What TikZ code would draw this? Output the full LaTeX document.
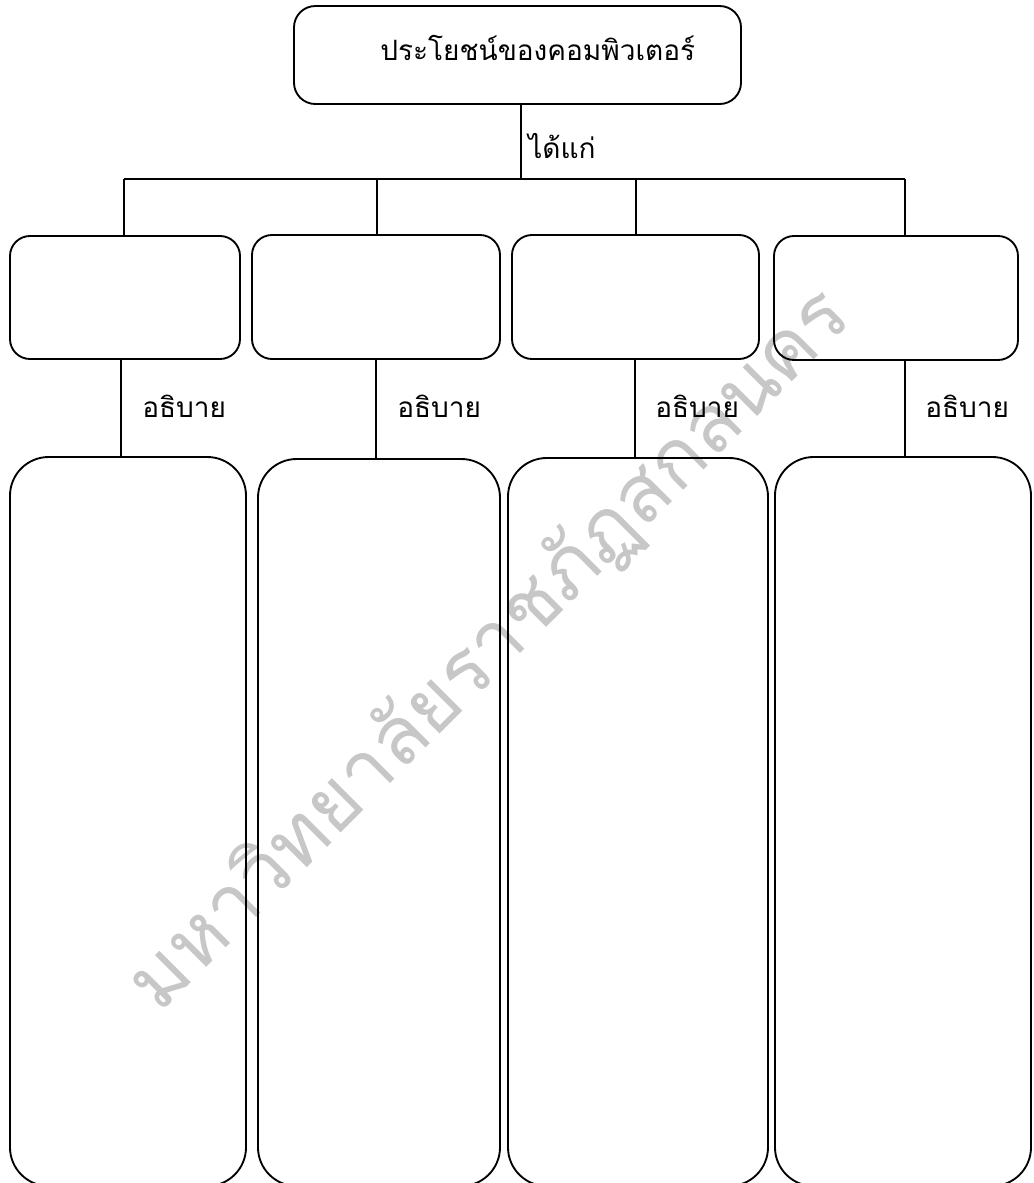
\documentclass[tikz,border=0pt]{standalone}
\usepackage{fontspec}
\newfontfamily\thaifont[Script=Thai]{Loma}
\begin{document}
\begin{tikzpicture}[x=0.75pt,y=-0.75pt,
  frame/.style={draw=black, line width=1.4pt, inner sep=0pt, outer sep=0pt},
  size/.style 2 args={minimum width=#1*0.75pt, minimum height=#2*0.75pt},
  headbox/.style={frame, rounded corners=16pt},
  itembox/.style={frame, rounded corners=15pt},
  notebox/.style={frame, rounded corners=29pt},
  link/.style={draw=black, line width=1.2pt},
  lbl/.style={font=\thaifont\fontsize{21}{25}\selectfont, inner sep=0pt, anchor=base west},
  wmtext/.style={font=\thaifont\fontsize{60}{70}\selectfont, text=black!22, inner sep=0pt, rotate=45}]
\useasboundingbox (0,0) rectangle (1033,1183);
\clip (0,0) rectangle (1033,1183);
\fill[white] (0,0) rectangle (1033,1183);

% watermark behind the chart
\node[wmtext] (wm) at (490,650) {มหาวิทยาลัยราชภัฏสกลนคร};

% heading
\node[headbox, size={447}{98}] (T) at (517.5,55) {};
\node[lbl] (Ttext) at (380,60) {ประโยชน์ของคอมพิวเตอร์};

% first row of items
\node[itembox, size={230}{123}] (b1) at (125,297.5) {};
\node[itembox, size={248}{124}] (b2) at (376,297) {};
\node[itembox, size={247}{124}] (b3) at (635.5,297) {};
\node[itembox, size={244}{124}] (b4) at (896,298) {};

% tall explanation boxes
\node[notebox, size={236}{729}] (B1) at (128,821.5) {};
\node[notebox, size={242}{727}] (B2) at (379,822.5) {};
\node[notebox, size={260}{728}] (B3) at (638,822) {};
\node[notebox, size={256}{729}] (B4) at (903,821.5) {};

% branching bar
\coordinate (xc) at (521,0);
\coordinate (barL) at (124,179);
\coordinate (barR) at (905,179);
\coordinate (bar2) at (377,179);
\coordinate (bar3) at (636,179);
\draw[link] (xc |- T.south) -- (xc |- barL);
\draw[link] (barL) -- (barR);
\draw[link] (barL) -- (barL |- b1.north);
\draw[link] (bar2) -- (bar2 |- b2.north);
\draw[link] (bar3) -- (bar3 |- b3.north);
\draw[link] (barR) -- (barR |- b4.north);
\node[lbl] (given) at (528,158) {ได้แก่};

% item to explanation links
\coordinate (x1) at (121,0);
\coordinate (x2) at (376,0);
\coordinate (x3) at (635,0);
\coordinate (x4) at (905,0);
\draw[link] (x1 |- b1.south) -- (x1 |- B1.north);
\draw[link] (x2 |- b2.south) -- (x2 |- B2.north);
\draw[link] (x3 |- b3.south) -- (x3 |- B3.north);
\draw[link] (x4 |- b4.south) -- (x4 |- B4.north);
\node[lbl] (e1) at (142,417) {อธิบาย};
\node[lbl] (e2) at (397,417) {อธิบาย};
\node[lbl] (e3) at (655,417) {อธิบาย};
\node[lbl] (e4) at (925,417) {อธิบาย};
\end{tikzpicture}
\end{document}
